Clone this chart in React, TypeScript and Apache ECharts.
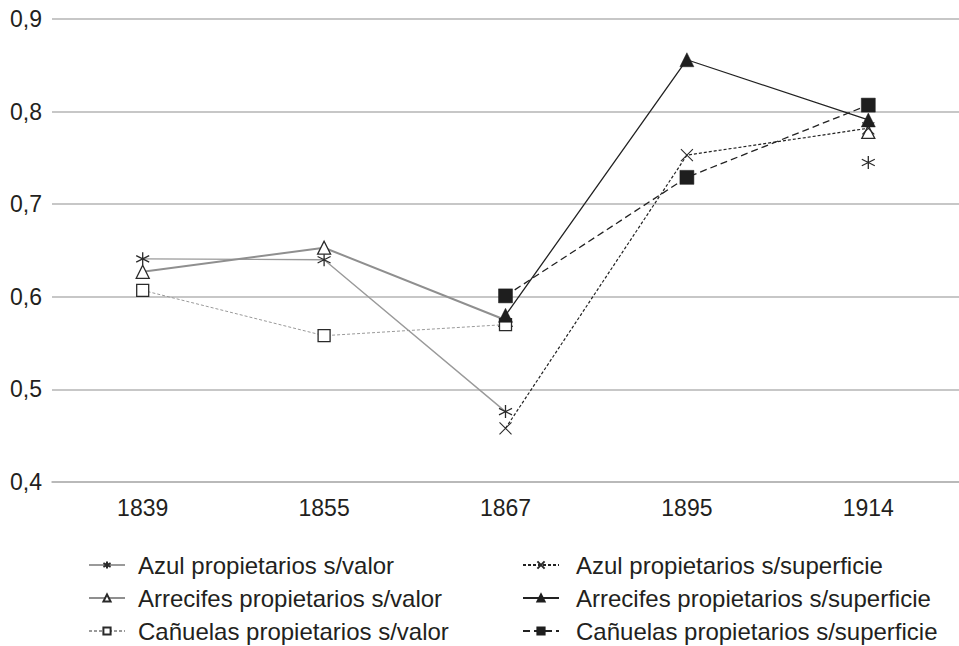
import React, { useEffect, useRef } from "react";
import * as echarts from "echarts";

const years = ["1839", "1855", "1867", "1895", "1914"];
const azulValor = [0.641, 0.64, 0.476, null, 0.745];
const arrecifesValor = [0.627, 0.653, 0.575, null, 0.778];
const canuelasValor = [0.607, 0.558, 0.57, null, null];
const azulSuperficie = [null, null, 0.458, 0.753, 0.782];
const arrecifesSuperficie = [null, null, 0.58, 0.856, 0.791];
const canuelasSuperficie = [null, null, 0.601, 0.729, 0.807];

const names = [
  "Azul propietarios s/valor",
  "Arrecifes propietarios s/valor",
  "Cañuelas propietarios s/valor",
  "Azul propietarios s/superficie",
  "Arrecifes propietarios s/superficie",
  "Cañuelas propietarios s/superficie",
];

const ASTERISK = "path://M5,0 L5,10 M0.7,2.5 L9.3,7.5 M0.7,7.5 L9.3,2.5";
const CROSS = "path://M0,0 L10,10 M0,10 L10,0";

export default function App() {
  const ref = useRef<HTMLDivElement>(null);
  useEffect(() => {
    if (!ref.current) return;
    const chart = echarts.init(ref.current, null, { renderer: "svg" });
    const font = "'Liberation Sans', Arial, Helvetica, sans-serif";
    const txt = "#231f20";
    const mk = (
      name: string,
      data: (number | null)[],
      symbol: string,
      size: number,
      line: any,
      item: any
    ) => ({
      name,
      type: "line",
      data,
      symbol,
      symbolSize: size,
      showSymbol: true,
      showAllSymbol: true,
      connectNulls: false,
      lineStyle: line,
      itemStyle: item,
      emphasis: { disabled: true },
    });
    const legendBase = {
      orient: "vertical",
      top: 553,
      height: 93,
      padding: 0,
      itemWidth: 36,
      itemHeight: 9,
      itemGap: 9,
    };
    chart.setOption({
      animation: false,
      backgroundColor: "#ffffff",
      textStyle: { fontFamily: font },
      grid: { left: 52, right: 0, top: 19, bottom: 164, containLabel: false },
      xAxis: {
        type: "category",
        data: years,
        boundaryGap: true,
        axisLine: { show: true, lineStyle: { color: "#b5b5b5", width: 1.6 } },
        axisTick: { show: false },
        axisLabel: { fontSize: 23, color: txt, margin: 14, fontFamily: font },
        splitLine: { show: false },
      },
      yAxis: {
        type: "value",
        min: 0.4,
        max: 0.9,
        interval: 0.1,
        axisLine: { show: false },
        axisTick: { show: false },
        axisLabel: {
          fontSize: 23,
          color: txt,
          margin: 10,
          fontFamily: font,
          formatter: (v: number) => v.toFixed(1).replace(".", ","),
        },
        splitLine: { show: true, lineStyle: { color: "#b5b5b5", width: 1.6 } },
      },
      legend: [
        {
          ...legendBase,
          data: names.slice(0, 3),
          left: 88,
          textStyle: { fontSize: 24, lineHeight: 24, color: txt, fontFamily: font, padding: [0, 0, 0, 8] },
        },
        {
          ...legendBase,
          data: names.slice(3),
          left: 522,
          textStyle: { fontSize: 24, lineHeight: 24, color: txt, fontFamily: font, padding: [0, 0, 0, 12] },
        },
      ],
      series: [
        mk(names[0], azulValor, ASTERISK, 13, { color: "#9a9a9a", width: 1.4, type: "solid" }, {
          color: "transparent",
          borderColor: "#2a2a2a",
          borderWidth: 1.3,
        }),
        mk(names[1], arrecifesValor, "triangle", 13, { color: "#8f8f8f", width: 2, type: "solid" }, {
          color: "#ffffff",
          borderColor: "#2a2a2a",
          borderWidth: 1.3,
        }),
        mk(names[2], canuelasValor, "rect", 12, { color: "#9a9a9a", width: 1, type: [3, 2] }, {
          color: "#ffffff",
          borderColor: "#2a2a2a",
          borderWidth: 1.3,
        }),
        mk(names[3], azulSuperficie, CROSS, 12, { color: "#222222", width: 1.2, type: [3, 2] }, {
          color: "transparent",
          borderColor: "#2a2a2a",
          borderWidth: 1.1,
        }),
        mk(names[4], arrecifesSuperficie, "triangle", 14, { color: "#222222", width: 1.3, type: "solid" }, {
          color: "#1e1e1e",
          borderColor: "#1e1e1e",
          borderWidth: 0.5,
        }),
        mk(names[5], canuelasSuperficie, "rect", 14, { color: "#222222", width: 1.3, type: [7, 4] }, {
          color: "#1e1e1e",
          borderColor: "#1e1e1e",
          borderWidth: 0.5,
        }),
      ],
    });
    return () => chart.dispose();
  }, []);
  return <div ref={ref} style={{ width: 959, height: 646, position: "absolute", left: 0, top: 0 }} />;
}
